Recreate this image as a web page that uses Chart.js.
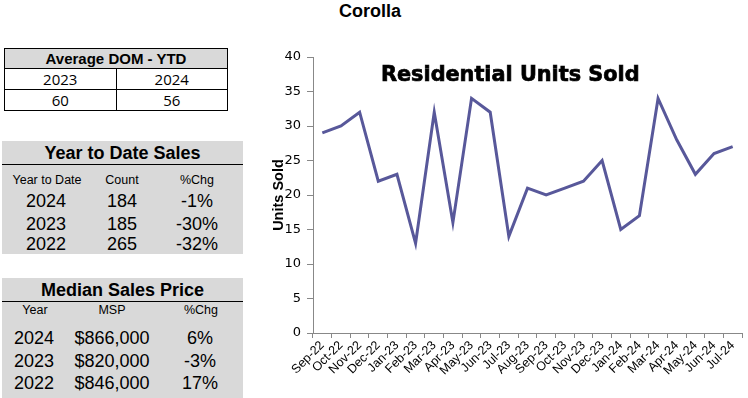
<!DOCTYPE html>
<html lang="en">
<head>
    <meta charset="UTF-8">
    <script src="https://cdn.jsdelivr.net/npm/chart.js"></script>
    <title>Corolla</title>
    <style>
        body { margin: 0; width: 748px; height: 398px; position: relative; overflow: hidden; background: #fff; font-family: "Liberation Sans", Arial, sans-serif; }
        .titulo { position: absolute; left: 255px; width: 230px; top: 1px; text-align: center; font-weight: bold; font-size: 18px; }
        table { border-collapse: collapse; position: absolute; }
        .dom { left: 4px; top: 48px; width: 224px; }
        .dom td { border: 1px solid #000; text-align: center; font-family: "Open Sans", "Liberation Sans", sans-serif; font-size: 15px; height: 20px; padding: 0; line-height: 19px; }
        .dom td.cab { background: #d9d9d9; font-weight: bold; font-family: "Liberation Sans", Arial, sans-serif; font-size: 15px; height: 17px; }
        .caixa { position: absolute; left: 2px; width: 241px; background: #d9d9d9; }
        .caixa .cab { font-weight: bold; font-size: 18px; text-align: center; height: 23px; line-height: 24px; border-bottom: 1px solid #000; }
        .linha { position: absolute; left: 0; width: 241px; height: 20px; line-height: 20px; }
        .linha span { position: absolute; text-align: center; transform: translateX(-50%); white-space: nowrap; }
        .peq { font-size: 12.5px; }
        .gde { font-size: 18px; }
        #area { position: absolute; left: 255px; top: 40px; width: 493px; height: 358px; }
        .titgraf { position: absolute; left: 381px; top: 62px; font-family: "DejaVu Sans", sans-serif; font-weight: bold; font-size: 20.8px; -webkit-text-stroke: 0.7px #000; }
    </style>
</head>
<body>
    <div class="titulo">Corolla</div>

    <table class="dom">
        <tr><td colspan="2" class="cab">Average DOM - YTD</td></tr>
        <tr><td id="domAno1"></td><td id="domAno2"></td></tr>
        <tr><td id="domVal1"></td><td id="domVal2"></td></tr>
    </table>

    <div class="caixa" id="ytd" style="top: 141px; height: 113px;">
        <div class="cab">Year to Date Sales</div>
    </div>

    <div class="caixa" id="msp" style="top: 278px; height: 120px;">
        <div class="cab">Median Sales Price</div>
    </div>

    <div id="area"><canvas id="myChart"></canvas></div>
    <div class="titgraf">Residential Units Sold</div>
</body>
<script>
    // dados do grafico
    const meses = ['Sep-22', 'Oct-22', 'Nov-22', 'Dec-22', 'Jan-23', 'Feb-23', 'Mar-23', 'Apr-23',
        'May-23', 'Jun-23', 'Jul-23', 'Aug-23', 'Sep-23', 'Oct-23', 'Nov-23', 'Dec-23',
        'Jan-24', 'Feb-24', 'Mar-24', 'Apr-24', 'May-24', 'Jun-24', 'Jul-24'];
    const unidadesVendidas = [29, 30, 32, 22, 23, 13, 32, 16, 34, 32, 14, 21, 20, 21, 22, 25, 15, 17, 34, 28, 23, 26, 27];

    // dados das tabelas
    const domAnos = ['2023', '2024'];
    const domValores = [60, 56];
    const ytdAnos = ['2024', '2023', '2022'];
    const ytdContagem = [184, 185, 265];
    const ytdVariacao = ['-1%', '-30%', '-32%'];
    const mspAnos = ['2024', '2023', '2022'];
    const mspPrecos = ['$866,000', '$820,000', '$846,000'];
    const mspVariacao = ['6%', '-3%', '17%'];

    document.getElementById('domAno1').textContent = domAnos[0];
    document.getElementById('domAno2').textContent = domAnos[1];
    document.getElementById('domVal1').textContent = domValores[0];
    document.getElementById('domVal2').textContent = domValores[1];

    function linha(caixa, topo, textos, centros, classe) {
        var div = document.createElement('div');
        div.className = 'linha ' + classe;
        div.style.top = topo + 'px';
        for (var i = 0; i < textos.length; i++) {
            var s = document.createElement('span');
            s.textContent = textos[i];
            s.style.left = centros[i] + 'px';
            div.appendChild(s);
        }
        document.getElementById(caixa).appendChild(div);
    }

    const ytdTopos = [50, 73, 93];
    linha('ytd', 29, ['Year to Date', 'Count', '%Chg'], [45, 120, 195], 'peq');
    for (var i = 0; i < ytdAnos.length; i++) {
        linha('ytd', ytdTopos[i], [ytdAnos[i], ytdContagem[i], ytdVariacao[i]], [44, 120, 195], 'gde');
    }

    const mspTopos = [50, 73, 95];
    linha('msp', 22, ['Year', 'MSP', '%Chg'], [33, 110, 199], 'peq');
    for (var i = 0; i < mspAnos.length; i++) {
        linha('msp', mspTopos[i], [mspAnos[i], mspPrecos[i], mspVariacao[i]], [32, 110, 198], 'gde');
    }

    const dados = {
        labels: meses,
        datasets: [{
            label: 'Units Sold',
            data: unidadesVendidas,
            borderColor: '#58589a',
            borderWidth: 3,
            pointRadius: 0,
            tension: 0,
            fill: false
        }]
    };

    const config = {
        type: 'line',
        data: dados,
        options: {
            responsive: true,
            maintainAspectRatio: false,
            animation: false,
            layout: { padding: { top: 17, right: 6, left: 15, bottom: 0 } },
            plugins: { legend: { display: false }, tooltip: { enabled: false } },
            scales: {
                x: {
                    offset: true,
                    grid: { display: true, drawOnChartArea: false, offset: true, tickLength: 5, color: '#888' },
                    border: { color: '#888' },
                    ticks: {
                        color: '#000', maxRotation: 45, minRotation: 45, autoSkip: false, padding: 0,
                        font: { family: 'Liberation Sans', size: 12.5 }
                    },
                    afterFit: function (eixo) { eixo.height = 65; }
                },
                y: {
                    min: 0, max: 40,
                    grid: { display: true, drawOnChartArea: false, tickLength: 6, color: '#888' },
                    border: { color: '#888' },
                    ticks: {
                        stepSize: 5, color: '#000', padding: 6,
                        font: { family: 'DejaVu Sans', size: 13 }
                    },
                    title: {
                        display: true, text: 'Units Sold', color: '#000', padding: 0,
                        font: { family: 'Liberation Sans', size: 14.5, weight: 'bold' }
                    },
                    afterFit: function (eixo) { eixo.width = 43; }
                }
            }
        }
    };

    const myChart = new Chart(document.getElementById('myChart'), config);
</script>
</html>
